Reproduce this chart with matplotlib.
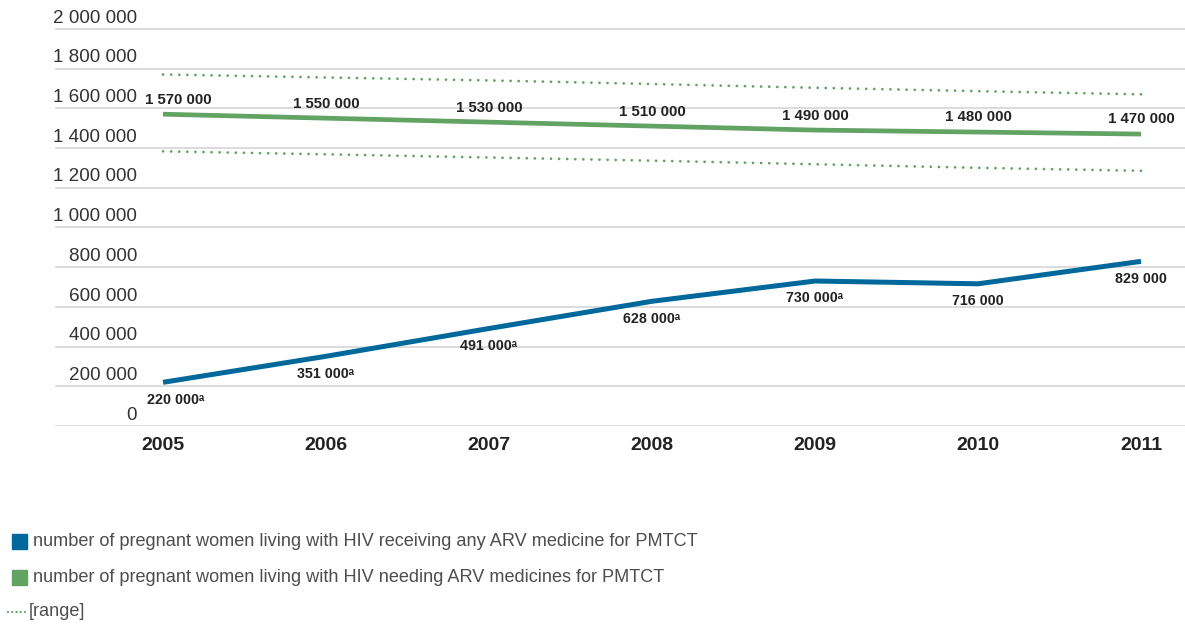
import numpy as np
import matplotlib.pyplot as plt
from matplotlib.patches import Rectangle
from matplotlib.lines import Line2D

plt.rcParams['font.family'] = ['Liberation Sans', 'DejaVu Sans']

# data
years = [2005, 2006, 2007, 2008, 2009, 2010, 2011]
receiving = [220000, 351000, 491000, 628000, 730000, 716000, 829000]
receiving_labels = ["220 000ᵃ", "351 000ᵃ", "491 000ᵃ", "628 000ᵃ", "730 000ᵃ", "716 000", "829 000"]
needing = [1570000, 1550000, 1530000, 1510000, 1490000, 1480000, 1470000]
needing_labels = ["1 570 000", "1 550 000", "1 530 000", "1 510 000", "1 490 000", "1 480 000", "1 470 000"]
range_high = [1770000, 1755000, 1740000, 1722000, 1703000, 1686000, 1670000]
range_low = [1383000, 1368000, 1352000, 1336000, 1318000, 1300000, 1285000]
yticks = [0, 200000, 400000, 600000, 800000, 1000000, 1200000, 1400000, 1600000, 1800000, 2000000]
ytick_labels = ["0", "200 000", "400 000", "600 000", "800 000", "1 000 000", "1 200 000",
                "1 400 000", "1 600 000", "1 800 000", "2 000 000"]

blue = "#00689a"
green = "#62a262"
W, H = 1185, 626

fig = plt.figure(figsize=(W / 100, H / 100), dpi=100)
ax = fig.add_axes([55 / W, 1 - 426 / H, 1130 / W, 426 / H])
ax.set_xlim(2004.337, 2011.27)
ax.set_ylim(0, 2.145e6)

for v in yticks:
    ax.axhline(v, color="#d6d6d6", lw=1.2, zorder=0)
for v, lab in zip(yticks, ytick_labels):
    ax.annotate(lab, xy=(82 / 1130, v), xycoords=ax.get_yaxis_transform(),
                xytext=(0, 4.5), textcoords="offset points",
                ha="right", va="baseline", fontsize=13.6, color="#333333")

# range (dotted)
dots = (0, (0.01, 2.9))
ax.plot(years, range_high, color=green, lw=2.0, linestyle=dots,
        dash_capstyle="round")
ax.plot(years, range_low, color=green, lw=2.0, linestyle=dots,
        dash_capstyle="round")

ax.plot(years, needing, color=green, lw=3.4, solid_capstyle="butt")
ax.plot(years, receiving, color=blue, lw=3.6, solid_capstyle="butt")

for i, (x, v, lab) in enumerate(zip(years, needing, needing_labels)):
    dx = 11 if i == 0 else 0
    ax.annotate(lab, xy=(x, v), xytext=(dx, 10.5), textcoords="offset points",
                ha="center", va="center", fontsize=10.8, fontweight="bold",
                color="#222222")
for i, (x, v, lab) in enumerate(zip(years, receiving, receiving_labels)):
    dx = 9 if i == 0 else 0
    ax.annotate(lab, xy=(x, v), xytext=(dx, -12.5), textcoords="offset points",
                ha="center", va="center", fontsize=10.3, fontweight="bold",
                color="#222222")

ax.set_xticks(years)
ax.set_xticklabels([str(y) for y in years], fontsize=14, fontweight="bold",
                   color="#222222")
ax.tick_params(axis="x", length=0, pad=8)
ax.set_yticks([])
for s in ax.spines.values():
    s.set_visible(False)

# legend
def fx(x):
    return x / W

def fy(y):
    return 1 - y / H

fig.add_artist(Rectangle((fx(12), fy(549)), 15 / W, 15 / H, color=blue,
                         transform=fig.transFigure))
fig.text(fx(33), fy(541), "number of pregnant women living with HIV receiving any ARV medicine for PMTCT",
         fontsize=13.1, color="#4d4d4d", va="center")
fig.add_artist(Rectangle((fx(12), fy(585)), 15 / W, 15 / H, color=green,
                         transform=fig.transFigure))
fig.text(fx(33), fy(577), "number of pregnant women living with HIV needing ARV medicines for PMTCT",
         fontsize=13.1, color="#4d4d4d", va="center")
fig.add_artist(Line2D([fx(8), fx(27)], [fy(612), fy(612)], color=green, lw=1.6,
                      linestyle=(0, (0.01, 1.9)), dash_capstyle="round",
                      transform=fig.transFigure))
fig.text(fx(29), fy(611), "[range]", fontsize=13.1, color="#4d4d4d", va="center")

fig.savefig("out.png", dpi=100)
